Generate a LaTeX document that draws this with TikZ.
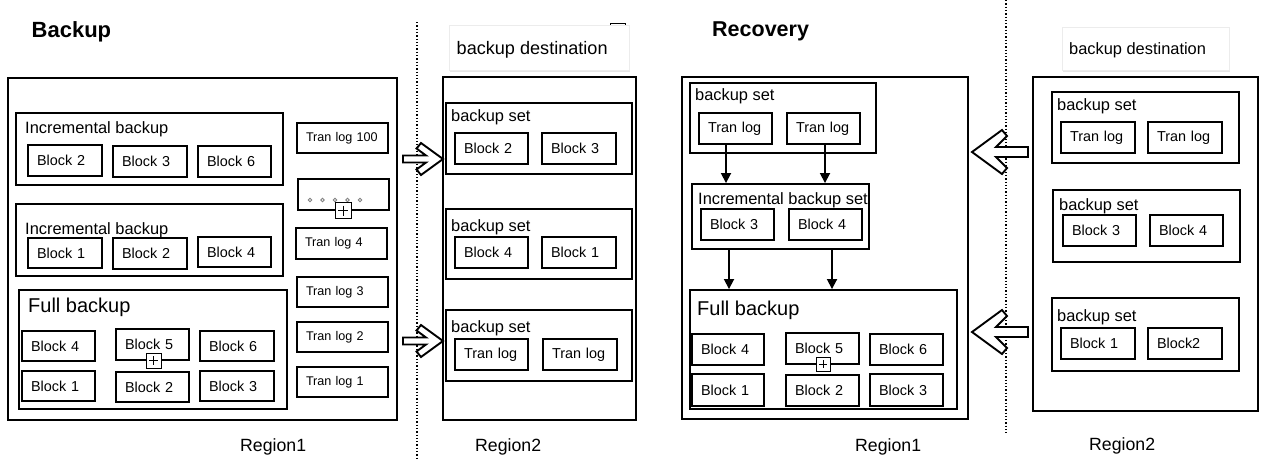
\documentclass[tikz,border=0pt]{standalone}
\usepackage{fontspec}
\setmainfont{Liberation Sans}
\usetikzlibrary{arrows.meta,shadows,calc}
\newcommand\myfs[1]{\fontsize{#1}{#1}\selectfont}
\newcommand\bx[7]{%
 \pgfmathsetmacro\myw{#4-#2}\pgfmathsetmacro\myh{#5-#3}%
 \pgfmathsetmacro\mycx{(#2+#4)/2}\pgfmathsetmacro\mycy{(#3+#5)/2}%
 \pgfmathsetmacro\mytw{max(#4-#2-18,1)}%
 \node[#6, minimum width=\myw pt, minimum height=\myh pt] (#1) at (\mycx,\mycy) {#7};}
\tikzset{
 box/.style={draw, line width=1.9pt, fill=white, inner xsep=9pt, inner ysep=0pt,
   text width=\mytw pt, align=left, font=\myfs{14.4},
   drop shadow={shadow xshift=1pt, shadow yshift=-1pt, opacity=0.25, fill=gray}},
 cont/.style={box},
 tlog/.style={box, font=\myfs{12.6}},
 dest/.style={draw=gray!15, line width=0.6pt, fill=white, inner sep=0pt,
   drop shadow={shadow xshift=1pt, shadow yshift=-1.5pt, opacity=0.2, fill=gray}},
 lbl/.style={anchor=base west, inner sep=0pt, font=\myfs{16.4}},
 flbl/.style={anchor=base west, inner sep=0pt, font=\myfs{20}},
 rlbl/.style={anchor=base west, inner sep=0pt, font=\myfs{17.7}},
 ttl/.style={anchor=base west, inner sep=0pt, font=\myfs{22}\bfseries},
 plusbox/.style={draw, fill=white, minimum size=15pt, inner sep=0pt, line width=1pt,
   path picture={\draw[line width=1pt]
     ([xshift=3pt]path picture bounding box.west) -- ([xshift=-3pt]path picture bounding box.east)
     ([yshift=-3pt]path picture bounding box.north) -- ([yshift=3pt]path picture bounding box.south);}},
 sep/.style={line width=1.3pt, dotted},
 dotc/.style={draw=gray, fill=white, line width=0.9pt},
 arr/.style={line width=1.8pt, -{Triangle[length=10pt,width=10pt]}},
 harrow/.style={draw, line width=1.9pt, fill=white, line join=miter},
 bkarrow/.pic={\path[harrow] (0,0) -- (-22,-16) -- (-26.5,-10.5) -- (-17,-3.5) -- (-40,-3.5)
   -- (-40,3.5) -- (-17,3.5) -- (-26.5,10.5) -- (-22,16) -- cycle;},
 rcarrow/.pic={\path[harrow] (0,0) -- (30,-22) -- (35,-16) -- (24,-5) -- (56,-5)
   -- (56,5) -- (24,5) -- (35,16) -- (30,22) -- cycle;},
}
\begin{document}
\begin{tikzpicture}[x=1pt,y=-1pt]
\useasboundingbox (0,0) rectangle (1280,469);
% separators
\coordinate (s1a) at (417,22); \coordinate (s1b) at (417,460);
\coordinate (s2a) at (1006,0); \coordinate (s2b) at (1006,433);
\draw[sep] (s1a) -- (s1b);
\draw[sep] (s2a) -- (s2b);
% titles
\node[ttl] (tb) at (31.5,37) {Backup};
\node[ttl, font=\myfs{21.5}\bfseries] (tr) at (712,36.5) {Recovery};

% ===== Backup Region1 =====
\bx{o1}{8}{78}{397}{420}{cont}{}
\bx{ib1}{16}{113}{283}{185}{cont}{}
\node[lbl] (ib1l) at (25,133) {Incremental backup};
\bx{ib1a}{28}{145}{102}{176}{box}{Block 2}
\bx{ib1b}{113}{146}{187}{177}{box}{Block 3}
\bx{ib1c}{198}{146}{271}{177}{box}{Block 6}
\bx{ib2}{16}{204}{283}{276}{cont}{}
\node[lbl] (ib2l) at (25,234) {Incremental backup};
\bx{ib2a}{28}{238}{102}{268}{box}{Block 1}
\bx{ib2b}{113}{238}{187}{269}{box}{Block 2}
\bx{ib2c}{198}{237}{271}{267}{box}{Block 4}
\bx{fb}{19}{290}{287}{409}{cont}{}
\node[flbl] (fbl) at (28,312) {Full backup};
\bx{fb1}{22}{331}{95}{361}{box}{Block 4}
\bx{fb2}{116}{329}{189}{360}{box}{Block 5}
\bx{fb3}{200}{331}{274}{361}{box}{Block 6}
\bx{fb4}{22}{371}{95}{401}{box}{Block 1}
\bx{fb5}{116}{372}{189}{402}{box}{Block 2}
\bx{fb6}{200}{371}{274}{401}{box}{Block 3}
\node[plusbox] (pb1) at (153.5,360.5) {};
\bx{t100}{297}{123}{388}{153}{tlog}{Tran log 100}
\bx{tdots}{298}{179}{389}{210}{tlog}{}
\foreach \i in {0,...,4} \path[dotc] (310+12.5*\i,200) circle (1.8pt);
\node[plusbox, minimum size=16pt] (pb2) at (343,210.5) {};
\bx{t4}{296}{228}{387}{259}{tlog}{Tran log 4}
\bx{t3}{297}{277}{388}{307}{tlog}{Tran log 3}
\bx{t2}{297}{322}{388}{352}{tlog}{Tran log 2}
\bx{t1}{297}{367}{388}{397}{tlog}{Tran log 1}
\node[rlbl] (r1a) at (240,451) {Region1};

% ===== Backup Region2 =====
\node[plusbox] (pb3) at (618,31) {};
\bx{d1}{449}{25}{629}{70}{dest}{}
\node[lbl, font=\myfs{18.1}] (d1l) at (456.5,54) {backup destination};
\bx{o2}{443}{77}{636}{420}{cont}{}
\bx{s1}{446}{103}{632}{174}{cont}{}
\node[lbl] (s1l) at (451,121) {backup set};
\bx{s1a}{455}{133}{528}{164}{box}{Block 2}
\bx{s1b}{542}{133}{616}{164}{box}{Block 3}
\bx{s2}{446}{209}{632}{279}{cont}{}
\node[lbl] (s2l) at (451,231) {backup set};
\bx{s2a}{455}{237}{528}{268}{box}{Block 4}
\bx{s2b}{542}{237}{616}{268}{box}{Block 1}
\bx{s3}{446}{310}{632}{381}{cont}{}
\node[lbl] (s3l) at (451,332) {backup set};
\bx{s3a}{455}{339}{528}{370}{box}{Tran log}
\bx{s3b}{543}{339}{617}{370}{box}{Tran log}
\node[rlbl] (r2a) at (475,451) {Region2};
% hollow arrows backup
\coordinate (ba1) at (443,159);
\coordinate (ba2) at (443,341);
\pic at (ba1) {bkarrow};
\pic at (ba2) {bkarrow};

% ===== Recovery Region1 =====
\bx{o3}{682}{77}{968}{419}{cont}{}
\bx{rs}{690}{83}{876}{153}{cont}{}
\node[lbl] (rsl) at (695,100) {backup set};
\bx{rsa}{699}{113}{772}{144}{box}{Tran log}
\bx{rsb}{787}{113}{860}{144}{box}{Tran log}
\bx{ri}{692}{184}{869}{249}{cont}{}
\node[lbl] (ril) at (698,204) {Incremental backup set};
\bx{ria}{701}{209}{774}{240}{box}{Block 3}
\bx{rib}{789}{209}{862}{240}{box}{Block 4}
\bx{rf}{690}{290}{957}{409}{cont}{}
\node[flbl] (rfl) at (697,315) {Full backup};
\bx{rf1}{692}{334}{764}{365}{box}{Block 4}
\bx{rf2}{786}{333}{859}{364}{box}{Block 5}
\bx{rf3}{870}{334}{943}{365}{box}{Block 6}
\bx{rf4}{692}{374}{764}{406}{box}{Block 1}
\bx{rf5}{786}{375}{859}{406}{box}{Block 2}
\bx{rf6}{870}{374}{943}{406}{box}{Block 3}
\node[plusbox, minimum size=14pt] (pb4) at (823,364) {};
\node[rlbl] (r1b) at (855,451.5) {Region1};
\draw[arr] ([xshift=-9.5pt]rsa.south) -- ([xshift=-9.5pt]rsa.south |- ri.north);
\draw[arr] ([xshift=1.5pt]rsb.south) -- ([xshift=1.5pt]rsb.south |- ri.north);
\draw[arr] ([xshift=-8.5pt]ria.south |- ri.south) -- ([xshift=-8.5pt]ria.south |- rf.north);
\draw[arr] ([xshift=6.5pt]rib.south |- ri.south) -- ([xshift=6.5pt]rib.south |- rf.north);

% ===== Recovery Region2 =====
\bx{d2}{1062}{27}{1229}{70}{dest}{}
\node[lbl] (d2l) at (1069,54) {backup destination};
\bx{o4}{1033}{77}{1258}{411}{cont}{}
\bx{q1}{1052}{92}{1239}{163}{cont}{}
\node[lbl] (q1l) at (1057,110) {backup set};
\bx{q1a}{1061}{122}{1135}{153}{box}{Tran log}
\bx{q1b}{1148}{122}{1222}{153}{box}{Tran log}
\bx{q2}{1053}{190}{1240}{262}{cont}{}
\node[lbl] (q2l) at (1059,210.5) {backup set};
\bx{q2a}{1063}{215}{1136}{246}{box}{Block 3}
\bx{q2b}{1150}{215}{1223}{246}{box}{Block 4}
\bx{q3}{1052}{298}{1239}{371}{cont}{}
\node[lbl] (q3l) at (1057,321) {backup set};
\bx{q3a}{1061}{328}{1135}{359}{box}{Block 1}
\bx{q3b}{1148}{328}{1222}{359}{box}{Block2}
\node[rlbl] (r2b) at (1089,450.5) {Region2};
% hollow arrows recovery
\coordinate (ra1) at (972,152);
\coordinate (ra2) at (972,332);
\pic at (ra1) {rcarrow};
\pic at (ra2) {rcarrow};
\end{tikzpicture}
\end{document}
